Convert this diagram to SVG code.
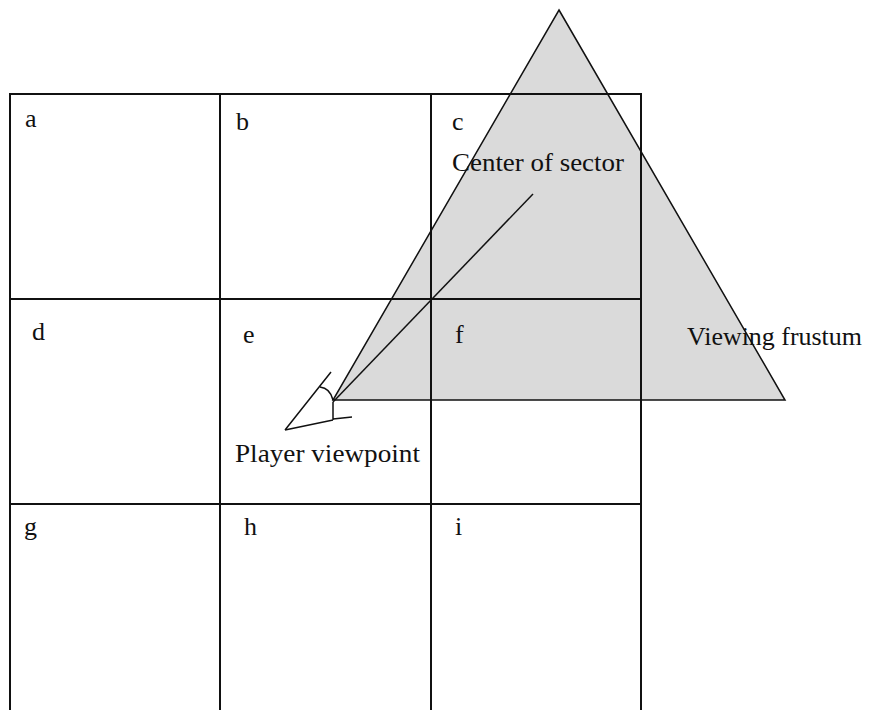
<svg xmlns="http://www.w3.org/2000/svg" width="869" height="710" viewBox="0 0 869 710">
<style>
.grid{stroke:#111;stroke-width:2;fill:none}
.thin{stroke:#111;stroke-width:1.5;fill:none}
text{font-family:"Liberation Serif","Times New Roman",serif;font-size:26px;fill:#111}
</style>
<rect width="869" height="710" fill="#fff"/>
<g id="frustum-fill">
<polygon points="559,10 785,400 333,400" fill="#dadada"/>
</g>
<g id="grid">
<path class="grid" d="M10,710 V94 H641 V710 M220,94 V710 M431,94 V710 M10,299 H641 M10,504 H641"/>
</g>
<g id="cells">
<g id="cell-a"><text x="25" y="127">a</text></g>
<g id="cell-b"><text x="236" y="130">b</text></g>
<g id="cell-c"><text x="452" y="130">c</text></g>
<g id="cell-d"><text x="32" y="340">d</text></g>
<g id="cell-e"><text x="243" y="343">e</text></g>
<g id="cell-f"><text x="455" y="343">f</text></g>
<g id="cell-g"><text x="24" y="535">g</text></g>
<g id="cell-h"><text x="244" y="535">h</text></g>
<g id="cell-i"><text x="455" y="535">i</text></g>
</g>
<g id="frustum">
<polygon class="thin" points="559,10 785,400 333,400"/>
<text x="687" y="345" textLength="175" lengthAdjust="spacingAndGlyphs">Viewing frustum</text>
</g>
<g id="connectors">
<line class="thin" x1="333" y1="402" x2="533" y2="194"/>
</g>
<g id="center-of-sector">
<text x="452" y="171" textLength="172" lengthAdjust="spacingAndGlyphs">Center of sector</text>
</g>
<g id="player">
<path class="thin" d="M285,430 L331,372 M320,387 Q330,388 333,400 M333,402 V420 M285,430 L333,420 M333,419 L352,417"/>
<text x="235" y="462" textLength="185" lengthAdjust="spacingAndGlyphs">Player viewpoint</text>
</g>
</svg>
